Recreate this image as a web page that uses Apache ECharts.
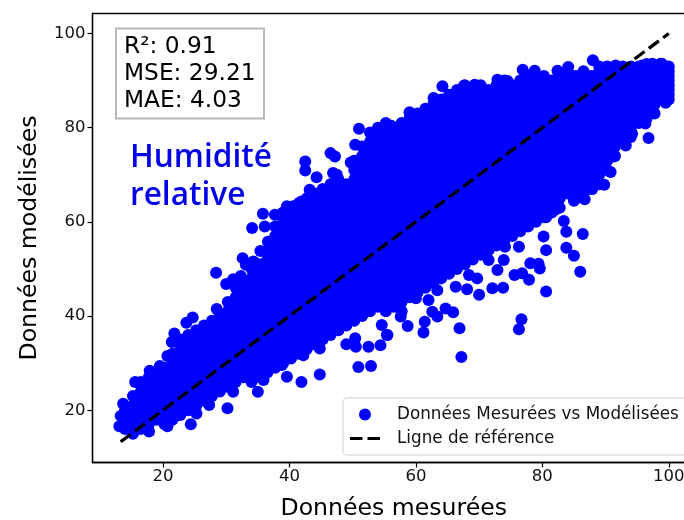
<!DOCTYPE html>
<html><head><meta charset="utf-8">
<style>html,body{margin:0;padding:0;background:#fff;overflow:hidden}#c{width:684px;height:520px}</style>
<script src="https://cdn.jsdelivr.net/npm/echarts@6/dist/echarts.min.js"></script>
</head><body><div id="c"></div>
<script>
const xTicks=[20,40,60,80,100];
const yTicks=[20,40,60,80,100];
const referenceX=[13.3,100];
const referenceY=[13.3,100];
const cloudX=[14,15.25,16.5,17.75,19,20.25,21.5,22.75,24,25.25,26.5,27.75,29,30.25,31.5,32.75,34,35.25,36.5,37.75,39,40.25,41.5,42.75,44,45.25,46.5,47.75,49,50.25,51.5,52.75,54,55.25,56.5,57.75,59,60.25,61.5,62.75,64,65.25,66.5,67.75,69,70.25,71.5,72.75,74,75.25,76.5,77.75,79,80.25,81.5,82.75,84,85.25,86.5,87.75,89,90.25,91.5,92.75,94,95.25,96.5,97.75,99,100];
const cloudY=[
[16,18,20],
[15,17,19,21,23],
[16,18,20,22,24,26],
[17,19,21,23,25,27],
[18,20,22,24,26,28],
[17,19,21,23,25,27,29],
[18,20,22,24,26,28,30,32],
[19,21,23,25,27,29,31,33,35],
[20,22,24,26,28,30,32,34,36],
[21,23,25,27,29,31,33,35,37],
[22,24,26,28,30,32,34,36,38],
[23,25,27,29,31,33,35,37,39],
[24,26,28,30,32,34,36,38,40],
[25,27,29,31,33,35,37,39,41,43],
[26,28,30,32,34,36,38,40,42,44,46],
[27,29,31,33,35,37,39,41,43,45,47],
[26,28,30,32,34,36,38,40,42,44,46,48,50],
[27,29,31,33,35,37,39,41,43,45,47,49,51],
[28,30,32,34,36,38,40,42,44,46,48,50,52,54],
[29,31,33,35,37,39,41,43,45,47,49,51,53,55,57,59],
[30,32,34,36,38,40,42,44,46,48,50,52,54,56,58,60,62],
[31,33,35,37,39,41,43,45,47,49,51,53,55,57,59,61,63],
[32,34,36,38,40,42,44,46,48,50,52,54,56,58,60,62,64],
[33,35,37,39,41,43,45,47,49,51,53,55,57,59,61,63,65],
[34,36,38,40,42,44,46,48,50,52,54,56,58,60,62,64,66],
[35,37,39,41,43,45,47,49,51,53,55,57,59,61,63,65,67],
[36,38,40,42,44,46,48,50,52,54,56,58,60,62,64,66,68],
[37,39,41,43,45,47,49,51,53,55,57,59,61,63,65,67,69],
[38,40,42,44,46,48,50,52,54,56,58,60,62,64,66,68],
[39,41,43,45,47,49,51,53,55,57,59,61,63,65,67,69,71,73],
[40,42,44,46,48,50,52,54,56,58,60,62,64,66,68,70,72,74,76],
[41,43,45,47,49,51,53,55,57,59,61,63,65,67,69,71,73,75,77,79],
[42,44,46,48,50,52,54,56,58,60,62,64,66,68,70,72,74,76,78,80],
[41,43,45,47,49,51,53,55,57,59,61,63,65,67,69,71,73,75,77,79,81],
[42,44,46,48,50,52,54,56,58,60,62,64,66,68,70,72,74,76,78,80],
[41,43,45,47,49,51,53,55,57,59,61,63,65,67,69,71,73,75,77,79,81],
[44,46,48,50,52,54,56,58,60,62,64,66,68,70,72,74,76,78,80,82],
[45,47,49,51,53,55,57,59,61,63,65,67,69,71,73,75,77,79,81,83],
[46,48,50,52,54,56,58,60,62,64,66,68,70,72,74,76,78,80,82,84],
[47,49,51,53,55,57,59,61,63,65,67,69,71,73,75,77,79,81,83,85],
[48,50,52,54,56,58,60,62,64,66,68,70,72,74,76,78,80,82,84,86],
[49,51,53,55,57,59,61,63,65,67,69,71,73,75,77,79,81,83,85,87],
[50,52,54,56,58,60,62,64,66,68,70,72,74,76,78,80,82,84,86,88],
[51,53,55,57,59,61,63,65,67,69,71,73,75,77,79,81,83,85,87,89],
[52,54,56,58,60,62,64,66,68,70,72,74,76,78,80,82,84,86,88],
[53,55,57,59,61,63,65,67,69,71,73,75,77,79,81,83,85,87,89],
[54,56,58,60,62,64,66,68,70,72,74,76,78,80,82,84,86,88],
[55,57,59,61,63,65,67,69,71,73,75,77,79,81,83,85,87,89],
[56,58,60,62,64,66,68,70,72,74,76,78,80,82,84,86,88,90],
[57,59,61,63,65,67,69,71,73,75,77,79,81,83,85,87,89],
[58,60,62,64,66,68,70,72,74,76,78,80,82,84,86,88,90],
[59,61,63,65,67,69,71,73,75,77,79,81,83,85,87,89,91],
[60,62,64,66,68,70,72,74,76,78,80,82,84,86,88,90],
[61,63,65,67,69,71,73,75,77,79,81,83,85,87,89,91],
[62,64,66,68,70,72,74,76,78,80,82,84,86,88,90],
[63,65,67,69,71,73,75,77,79,81,83,85,87,89,91],
[66,68,70,72,74,76,78,80,82,84,86,88,90,92],
[65,67,69,71,73,75,77,79,81,83,85,87,89,91],
[66,68,70,72,74,76,78,80,82,84,86,88,90,92],
[67,69,71,73,75,77,79,81,83,85,87,89,91],
[68,70,72,74,76,78,80,82,84,86,88,90,92,93],
[71,73,75,77,79,81,83,85,87,89,91,93],
[74,76,78,80,82,84,86,88,90,92],
[77,79,81,83,85,87,89,91,93],
[78,80,82,84,86,88,90,92,93],
[81,83,85,87,89,91,93],
[82,84,86,88,90,92,93.5],
[83,85,87,89,91,93],
[86,88,90,92,93.5],
[86,87,88,89,90,91,92,93]];
const edgeMeasured=[51,50.4,46.5,47.2,42.5,42.5,49.7,44.3,46.9,47.5,43.2,41.9,39.6,40.6,37.7,35.8,36.1,34.1,56.1,59,62.8,62.8,64.2,67.6,69.3,72.9,74.5,76.9,78.8,82.4,84.1,88,91.6,95.8,97.4,98.7,99.5,97.5,96.3,96.8,94.2,93.2,91.3,90.8,89.8,87.9,86.7,85,83.4,82.1,80.6,83.4,83.8,86.4,80.2,77.6,86,85,83.8,80.6,80.6,79.6,78.1,79.4,77.9,76.8,75.6,76.3,72.9,73.8,72.1,70,69.7,68.4,68.1,66.3,63.4,60,62,64.7,65.9,63.4,62.6,61.4,61.2,58.7,66.9,67.2,76.7,76.3,57.6,55.5,74.1,73.9,71.5,68,13.3,13.1,13.7,17.8,20.7,24.4,25.3,22.1,27.3,30.2,31.1,35,35.9,38.8,39.6,41.9,44.8,42.2,44.8,50.9,52.9,49,50.5,50.4,52.5,54.4,54.6,55.4,15.6,17.9,19.5,20.7,21.4,21.8,23.7,24.7,28.5,28.4,30,31.1,32.3,32.6,33.1,34.3,35.4,36.6];
const edgeModelled=[79.8,76.4,74.6,73.9,72.8,70.9,72.6,69.5,70.4,70,66.8,64.3,63.3,63.3,61.5,61.7,59,58.7,80.4,83.3,86.3,84.5,88.8,88.9,89.1,90.2,89.9,92.3,92.1,92.1,92.9,94.3,93.2,93.2,93.6,93.6,85.3,83.5,80.9,77.8,78.7,76.2,73.9,70.6,67.9,67,64.8,64.5,66.2,62.6,61,60.2,57.9,57.4,56.9,60.6,49.4,52.8,54.5,54,45.2,50.1,51.2,51.1,47.7,49.1,48.7,54.7,49.8,46,45.9,44.5,48,48.7,45.7,46.2,45.5,43.8,43.4,41.6,40.8,39.9,40.9,38.8,36.5,37.9,37.4,31.3,39.3,37.2,39.9,36,54.7,51.9,51.9,51.9,18.8,16.6,21.4,15.5,16.6,17,19.3,18.9,21.1,20.4,23.9,23.9,26.4,29.6,27.1,26,27.6,31.7,33.1,29.2,29.4,34,33.5,35.3,33.5,33.8,38.1,36,26,28.4,29.4,31.5,34.5,36.3,38.6,39.7,41.5,49.2,46.8,47.8,48.5,52.3,50.9,51.6,53.8,55.8];

const points=[];
cloudX.forEach((x,i)=>cloudY[i].forEach(y=>points.push([x,y])));
edgeMeasured.forEach((x,i)=>points.push([x,edgeModelled[i]]));
const refLine=referenceX.map((x,i)=>[x,referenceY[i]]);
const FONT='"DejaVu Sans"';
const axisCommon={
  type:'value',nameLocation:'middle',
  nameTextStyle:{fontFamily:FONT,fontSize:23.6,color:'#000'},
  axisLine:{show:true,lineStyle:{color:'#000',width:1.3}},
  splitLine:{show:false}
};
const chart=echarts.init(document.getElementById('c'),null,{renderer:'canvas'});
chart.setOption({
  animation:false,backgroundColor:'#fff',
  grid:{left:92.5,top:13.5,width:602.5,height:449,outerBoundsMode:'none',show:true,borderColor:'#000',borderWidth:1.3,backgroundColor:'transparent'},
  xAxis:Object.assign({},axisCommon,{name:'Données mesurées',nameGap:34,min:8.85,max:104.15,
    axisTick:{length:5,lineStyle:{color:'#000',width:1.2},customValues:xTicks},
    axisLabel:{fontFamily:FONT,fontSize:16.5,color:'#111',margin:6,customValues:xTicks}}),
  yAxis:Object.assign({},axisCommon,{name:'Données modélisées',nameGap:51,min:8.9,max:104.25,
    axisTick:{length:5,lineStyle:{color:'#000',width:1.2},customValues:yTicks},
    axisLabel:{fontFamily:FONT,fontSize:16.5,color:'#111',margin:7,customValues:yTicks}}),
  legend:{orient:'vertical',left:343,top:398,padding:[8,8,8,7],itemWidth:30,itemHeight:12,itemGap:7,
    backgroundColor:'rgba(255,255,255,0.8)',borderColor:'#e0e0e0',borderWidth:1.5,borderRadius:4,
    textStyle:{fontFamily:FONT,fontSize:16.8,color:'#111',padding:[0,0,0,12]},
    data:[{name:'Données Mesurées vs Modélisées'},
          {name:'Ligne de référence',icon:'path://M0 0L0 0M0 12L0 12M0 4.4H12.5V7.6H0ZM17.5 4.4H30V7.6H17.5Z'}]},
  series:[
    {name:'Données Mesurées vs Modélisées',type:'scatter',symbol:'circle',symbolSize:12,data:points,
     itemStyle:{color:'#0000ff',opacity:1},clip:false,z:2},
    {name:'Ligne de référence',type:'line',symbol:'none',showSymbol:false,data:refLine,z:3,
     lineStyle:{color:'#000',width:3.3,type:[12.5,5.3],cap:'butt'},itemStyle:{color:'#000'}}
  ],
  graphic:[
    {type:'rect',shape:{x:116,y:28.5,width:148,height:90},z:10,
     style:{fill:'rgba(255,255,255,0.9)',stroke:'#b8b8b8',lineWidth:2}},
    {type:'text',x:124,y:34,z:11,style:{text:'R²: 0.91\nMSE: 29.21\nMAE: 4.03',fontFamily:FONT,fontSize:23.3,lineHeight:26.7,fill:'#000'}},
    {type:'text',x:130,y:139,z:11,style:{text:'Humidité\nrelative',fontFamily:'"Open Sans"',fontSize:31.6,fontWeight:600,lineHeight:38,fill:'#0000e6'}}
  ]
});
</script></body></html>
